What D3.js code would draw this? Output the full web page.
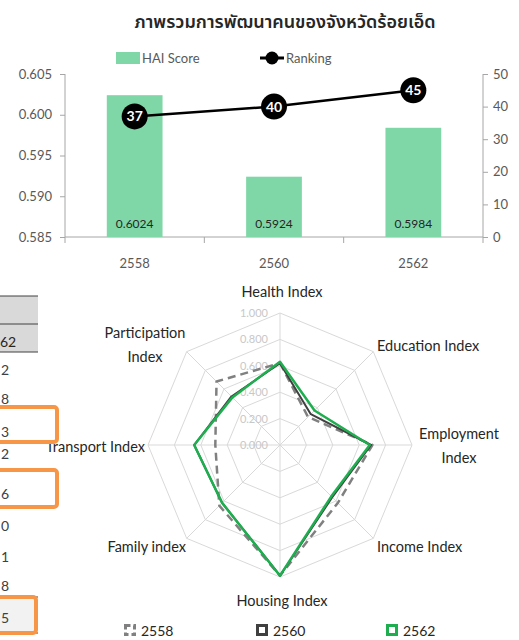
<!DOCTYPE html>
<head>
<meta charset="utf-8">
<title>ภาพรวมการพัฒนาคน ร้อยเอ็ด</title>
<script src="https://cdn.jsdelivr.net/npm/d3@7"></script>
<style>
  body { margin: 0; background: #fff; }
  svg text { font-family: Lato, "Noto Sans", sans-serif; }
  .thai { font-family: "Noto Sans Thai", "Noto Sans", Tahoma, sans-serif; }
</style>
</head>
<body>
<svg id="c" width="519" height="640"></svg>
<script>
// --- data ---
var years = ["2558", "2560", "2562"]
var haiScore = [0.6024, 0.5924, 0.5984]
var ranking = [37, 40, 45]
var leftTicks = [0.585, 0.590, 0.595, 0.600, 0.605]
var rightTicks = [0, 10, 20, 30, 40, 50]

var indexNames = ["Health Index", "Education Index", "Employment Index", "Income Index",
                  "Housing Index", "Family index", "Transport Index", "Participation Index"]
var idx2558 = [0.62, 0.30, 0.70, 0.62, 0.99, 0.65, 0.49, 0.68]
var idx2560 = [0.62, 0.33, 0.69, 0.56, 0.99, 0.62, 0.65, 0.52]
var idx2562 = [0.63, 0.37, 0.68, 0.55, 0.99, 0.62, 0.65, 0.51]
var ringTicks = [0, 0.2, 0.4, 0.6, 0.8, 1.0]

// the cut-off table on the left edge
var tableDigits = ["2", "8", "3", "2", "6", "0", "1", "8", "5"]
var tableRowY = [370, 399, 432, 454, 494, 526, 557, 586, 618]

var svg = d3.select('#c')

// title
svg.append('text').attr('class', 'thai')
  .attr('x', 285).attr('y', 28).attr('text-anchor', 'middle')
  .attr('font-size', 18).attr('font-weight', 600).attr('fill', '#262626')
  .text('ภาพรวมการพัฒนาคนของจังหวัดร้อยเอ็ด')

// ---------- combo chart ----------
var x = d3.scaleBand().domain(years).range([65, 483]).paddingInner(0).paddingOuter(0)
var yL = d3.scaleLinear().domain([0.585, 0.605]).range([237, 74])
var yR = d3.scaleLinear().domain([0, 50]).range([237, 74])
var axisCol = '#a6a6a6'

var gl = svg.append('g').attr('transform', 'translate(65,0)')
  .call(d3.axisLeft(yL).tickValues(leftTicks).tickFormat(d3.format('.3f')).tickSize(5).tickPadding(8))
var gr = svg.append('g').attr('transform', 'translate(483,0)')
  .call(d3.axisRight(yR).tickValues(rightTicks).tickSize(5).tickPadding(5))
;[gl, gr].forEach(function (g) {
  g.selectAll('.domain').attr('stroke', axisCol).attr('d', 'M0,74V237')
  g.selectAll('.tick line').attr('stroke', axisCol)
  g.selectAll('text').attr('font-size', 13).attr('fill', '#595959').attr('font-family', 'Lato, sans-serif')
})

var gx = svg.append('g').attr('transform', 'translate(0,237)')
gx.append('line').attr('x1', 65).attr('x2', 483).attr('stroke', axisCol)
var bounds = x.domain().map(function (d) { return x(d) }).concat([483])
gx.selectAll('.bt').data(bounds).enter().append('line')
  .attr('x1', function (d) { return d }).attr('x2', function (d) { return d })
  .attr('y1', 0).attr('y2', 6).attr('stroke', axisCol)
gx.selectAll('.xl').data(years).enter().append('text')
  .attr('x', function (d) { return x(d) + x.bandwidth() / 2 }).attr('y', 31)
  .attr('text-anchor', 'middle').attr('font-size', 13).attr('fill', '#595959')
  .text(function (d) { return d })

var bw = x.bandwidth() * 0.4
svg.selectAll('.bar').data(haiScore).enter().append('rect')
  .attr('x', function (d, i) { return x(years[i]) + (x.bandwidth() - bw) / 2 })
  .attr('width', bw)
  .attr('y', function (d) { return yL(d) })
  .attr('height', function (d) { return yL(0.585) - yL(d) })
  .attr('fill', '#7fd7a7')
svg.selectAll('.bv').data(haiScore).enter().append('text')
  .attr('x', function (d, i) { return x(years[i]) + x.bandwidth() / 2 })
  .attr('y', 228).attr('text-anchor', 'middle').attr('font-size', 12).attr('fill', '#262626')
  .text(function (d) { return d3.format('.4f')(d) })

var cxr = function (d, i) { return x(years[i]) + x.bandwidth() / 2 }
svg.append('path').datum(ranking)
  .attr('d', d3.line().x(cxr).y(function (d) { return yR(d) }))
  .attr('fill', 'none').attr('stroke', '#000').attr('stroke-width', 2.5)
var dots = svg.selectAll('.dot').data(ranking).enter().append('g')
  .attr('transform', function (d, i) { return 'translate(' + cxr(d, i) + ',' + yR(d) + ')' })
dots.append('circle').attr('r', 13).attr('fill', '#000')
dots.append('text').attr('text-anchor', 'middle').attr('dy', '0.36em')
  .attr('font-size', 14).attr('font-weight', 700).attr('fill', '#fff')
  .text(function (d) { return d })

// legend
svg.append('rect').attr('x', 116).attr('y', 52).attr('width', 24).attr('height', 12).attr('fill', '#7fd7a7')
svg.append('text').attr('x', 142).attr('y', 63).attr('font-size', 13).attr('fill', '#595959').text('HAI Score')
svg.append('line').attr('x1', 260).attr('x2', 284).attr('y1', 58).attr('y2', 58).attr('stroke', '#000').attr('stroke-width', 3)
svg.append('circle').attr('cx', 272).attr('cy', 58).attr('r', 6.5).attr('fill', '#000')
svg.append('text').attr('x', 286).attr('y', 63).attr('font-size', 13).attr('fill', '#595959').text('Ranking')

// ---------- left table fragment ----------
var tb = svg.append('g')
tb.append('rect').attr('x', 0).attr('y', 296).attr('width', 38).attr('height', 56).attr('fill', '#d9d9d9')
;[296, 324, 352].forEach(function (yy) {
  tb.append('line').attr('x1', 0).attr('x2', 38).attr('y1', yy).attr('y2', yy).attr('stroke', '#404040').attr('stroke-width', 1)
})
tb.append('text').attr('x', 0).attr('y', 347).attr('font-size', 14).attr('fill', '#262626').text('62')
tb.append('rect').attr('x', -5).attr('y', 597).attr('width', 41).attr('height', 36).attr('fill', '#f2f2f2')
;[597, 633].forEach(function (yy) {
  tb.append('line').attr('x1', 30).attr('x2', 38).attr('y1', yy).attr('y2', yy).attr('stroke', '#404040')
})
tb.selectAll('.td').data(tableDigits).enter().append('text')
  .attr('x', 1)
  .attr('y', function (d, i) { return tableRowY[i] + 5 })
  .attr('font-size', 14).attr('fill', '#404040')
  .text(function (d) { return d })

// ---------- radar ----------
var cx = 280, cy = 445, R = 132
var rS = d3.scaleLinear().domain([0, 1]).range([0, R])
var n = indexNames.length
function pt(i, v) {
  var a = i * 2 * Math.PI / n
  return [cx + rS(v) * Math.sin(a), cy - rS(v) * Math.cos(a)]
}
var rg = svg.append('g')
ringTicks.slice(1).forEach(function (t) {
  rg.append('path').attr('d', d3.line()(d3.range(n).map(function (i) { return pt(i, t) })) + 'Z')
    .attr('fill', 'none').attr('stroke', '#d9d9d9').attr('stroke-width', 1)
})
d3.range(n).forEach(function (i) {
  var p = pt(i, 1)
  rg.append('line').attr('x1', cx).attr('y1', cy).attr('x2', p[0]).attr('y2', p[1])
    .attr('stroke', '#d9d9d9').attr('stroke-width', 1)
})
rg.selectAll('.rt').data(ringTicks).enter().append('text')
  .attr('x', cx - 12).attr('y', function (d) { return cy - rS(d) + 4 })
  .attr('text-anchor', 'end').attr('font-size', 11).attr('fill', '#c8c8c8')
  .attr('font-family', '"DejaVu Serif", "Liberation Serif", serif')
  .text(function (d) { return d3.format('.3f')(d) })

var series = [
  { vals: idx2558, col: '#808080', w: 2.5, dash: '8,5' },
  { vals: idx2560, col: '#404040', w: 2, dash: null },
  { vals: idx2562, col: '#1fae4f', w: 2.5, dash: null }
]
series.forEach(function (s) {
  rg.append('path')
    .attr('d', d3.line()(s.vals.map(function (v, i) { return pt(i, v) })) + 'Z')
    .attr('fill', 'none').attr('stroke', s.col).attr('stroke-width', s.w)
    .attr('stroke-dasharray', s.dash).attr('stroke-linejoin', 'round')
})

// axis labels
var lab = [
  { lines: ['Health Index'], x: 282, y: 297, a: 'middle' },
  { lines: ['Education Index'], x: 377, y: 351, a: 'start' },
  { lines: ['Employment', 'Index'], x: 459, y: 439, a: 'middle' },
  { lines: ['Income Index'], x: 377, y: 552, a: 'start' },
  { lines: ['Housing Index'], x: 282, y: 606, a: 'middle' },
  { lines: ['Family index'], x: 186, y: 552, a: 'end' },
  { lines: ['Transport Index'], x: 145, y: 452, a: 'end' },
  { lines: ['Participation', 'Index'], x: 145, y: 338, a: 'middle' }
]
lab.forEach(function (l) {
  var t = svg.append('text').attr('x', l.x).attr('y', l.y).attr('text-anchor', l.a)
    .attr('font-size', 14.5).attr('fill', '#262626')
  l.lines.forEach(function (s, k) {
    t.append('tspan').attr('x', l.x).attr('dy', k ? 24 : 0).text(s)
  })
})

// orange highlight boxes over the table
;[[407, 35, 57], [470, 37, 57], [597, 36, 36]].forEach(function (b) {
  svg.append('rect').attr('x', -10).attr('y', b[0]).attr('width', b[2] + 10).attr('height', b[1])
    .attr('rx', 3).attr('fill', 'none').attr('stroke', '#f79646').attr('stroke-width', 4)
})

// radar legend
var lg = [
  { t: '2558', x: 124, col: '#808080', dash: '5,3' },
  { t: '2560', x: 256, col: '#404040', dash: null },
  { t: '2562', x: 386, col: '#1fae4f', dash: null }
]
lg.forEach(function (l) {
  svg.append('rect').attr('x', l.x + 1.5).attr('y', 625.5).attr('width', 9).attr('height', 9)
    .attr('fill', 'none').attr('stroke', l.col).attr('stroke-width', 3).attr('stroke-dasharray', l.dash)
  svg.append('text').attr('x', l.x + 17).attr('y', 636).attr('font-size', 14).attr('fill', '#262626').text(l.t)
})
</script>
</body>
